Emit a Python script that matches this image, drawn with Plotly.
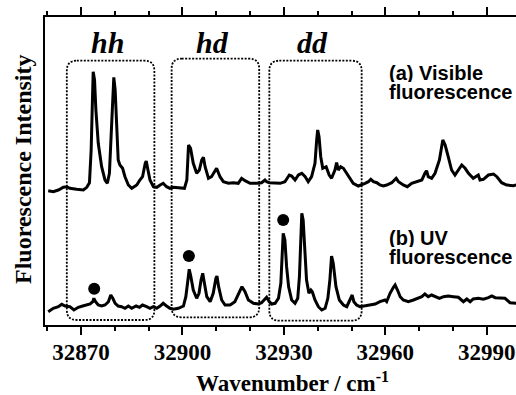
import plotly.graph_objects as go

# ---------------- data ----------------
wn_a = [32860.3, 32861.8, 32863.3, 32864.8, 32865.8, 32866.7, 32868.7, 32870.7, 32871.7, 32872.5,
        32873.0, 32873.4, 32873.6, 32874.0, 32874.4, 32875.1, 32876.1, 32877.1, 32877.8, 32878.4,
        32879.0, 32879.4, 32879.7, 32880.1, 32880.5, 32881.0, 32881.5, 32882.3, 32883.0, 32884.0,
        32885.0, 32886.5, 32887.4, 32888.2, 32889.0, 32889.3, 32889.8, 32890.4, 32891.4, 32892.4,
        32893.4, 32894.3, 32895.3, 32896.3, 32897.3, 32899.3, 32900.6, 32901.3, 32901.8, 32902.4,
        32903.2, 32904.2, 32905.0, 32905.7, 32906.2, 32906.7, 32907.7, 32908.6, 32910.1, 32911.1,
        32912.1, 32913.6, 32915.0, 32916.5, 32917.5, 32918.5, 32920.0, 32922.0, 32923.4, 32924.4,
        32924.9, 32925.7, 32926.9, 32928.9, 32930.3, 32931.1, 32931.6, 32932.3, 32933.3, 32934.3,
        32935.3, 32936.3, 32937.2, 32938.2, 32939.2, 32939.7, 32940.0, 32940.4, 32940.9, 32941.5,
        32942.5, 32943.4, 32944.1, 32945.1, 32945.6, 32946.1, 32946.8, 32947.6, 32948.6, 32949.6,
        32950.5, 32952.0, 32953.0, 32954.0, 32955.0, 32955.7, 32956.5, 32957.5, 32958.4, 32959.4,
        32960.4, 32961.9, 32963.2, 32963.9, 32965.3, 32966.5, 32967.8, 32969.3, 32970.8, 32971.7,
        32972.2, 32972.7, 32973.7, 32974.7, 32976.0, 32977.0, 32977.7, 32978.6, 32979.6, 32980.6,
        32981.6, 32982.6, 32983.6, 32984.6, 32986.0, 32987.5, 32988.0, 32989.0, 32990.5, 32992.0,
        32993.0, 32994.4, 32995.9, 32997.9, 32998.7]
int_a = [134.3, 133.3, 135.0, 137.7, 138.3, 136.7, 135.7, 135.0, 137.7, 142.3,
         175.0, 225.0, 253.3, 245.0, 215.0, 181.7, 158.3, 145.0, 141.7, 151.7,
         191.7, 231.7, 247.7, 235.0, 198.3, 165.0, 160.0, 156.7, 148.3, 140.0,
         136.7, 140.0, 145.0, 148.3, 161.7, 164.0, 155.0, 145.0, 138.3, 137.7,
         140.0, 141.7, 138.3, 136.7, 137.7, 136.7, 136.7, 145.0, 180.0, 176.7,
         161.7, 151.7, 155.0, 165.0, 167.7, 158.3, 146.7, 148.3, 156.7, 148.3,
         143.3, 141.7, 142.3, 141.7, 146.7, 144.3, 141.7, 141.7, 142.3, 145.0,
         143.3, 142.3, 142.3, 141.7, 143.3, 148.3, 150.0, 149.0, 145.0, 150.0,
         151.7, 148.3, 143.3, 148.3, 161.7, 185.0, 195.0, 188.3, 168.3, 156.7,
         158.3, 150.0, 146.7, 155.0, 162.3, 155.0, 158.3, 156.7, 151.7, 146.7,
         141.7, 139.0, 140.0, 141.7, 143.3, 145.7, 143.3, 142.3, 140.0, 139.0,
         140.0, 142.3, 146.7, 143.3, 140.0, 138.3, 141.7, 143.3, 145.0, 151.7,
         154.3, 148.3, 146.7, 151.7, 165.0, 185.0, 180.0, 168.3, 155.0, 150.0,
         155.0, 160.0, 156.7, 151.7, 146.7, 150.0, 145.0, 145.7, 150.0, 151.0,
         148.3, 142.3, 140.0, 139.3, 140.0]

wn_b = [32860.3, 32861.8, 32863.3, 32864.3, 32865.3, 32866.7, 32867.9, 32869.2, 32870.5, 32871.7,
        32872.7, 32873.5, 32873.8, 32874.3, 32875.1, 32876.1, 32877.1, 32878.1, 32878.8, 32879.4,
        32880.1, 32881.0, 32882.0, 32883.0, 32884.0, 32885.0, 32886.3, 32887.3, 32888.2, 32889.4,
        32890.4, 32891.4, 32892.4, 32893.4, 32894.3, 32895.3, 32896.3, 32897.3, 32898.8, 32900.3,
        32901.0, 32901.5, 32902.0, 32902.5, 32903.2, 32904.2, 32904.9, 32905.5, 32906.0, 32906.5,
        32907.2, 32908.2, 32909.1, 32909.9, 32910.2, 32910.7, 32911.6, 32912.6, 32914.1, 32915.5,
        32916.8, 32917.6, 32918.5, 32919.5, 32921.0, 32922.5, 32923.4, 32924.4, 32924.9, 32925.7,
        32926.4, 32927.4, 32928.4, 32929.1, 32929.6, 32929.8, 32930.3, 32930.8, 32931.4, 32932.3,
        32933.3, 32934.1, 32934.6, 32935.0, 32935.3, 32935.7, 32936.3, 32936.7, 32937.4, 32938.0,
        32938.4, 32939.2, 32940.2, 32941.2, 32942.2, 32943.0, 32943.6, 32944.1, 32944.6, 32945.4,
        32946.4, 32947.6, 32948.6, 32949.6, 32950.2, 32950.7, 32951.5, 32952.5, 32954.0, 32955.5,
        32957.0, 32958.4, 32959.9, 32960.4, 32961.4, 32962.4, 32962.9, 32963.6, 32964.4, 32965.3,
        32966.8, 32968.3, 32969.8, 32970.8, 32971.7, 32972.7, 32973.7, 32974.7, 32976.0, 32977.2,
        32978.6, 32980.1, 32981.6, 32983.1, 32984.1, 32985.1, 32986.0, 32987.5, 32989.0, 32990.5,
        32991.5, 32992.5, 32993.9, 32995.4, 32996.9, 32998.7]
int_b = [13.3, 16.7, 18.3, 20.7, 19.0, 18.3, 15.0, 17.7, 19.0, 20.0,
         21.0, 23.3, 26.7, 23.3, 20.0, 19.0, 20.0, 23.3, 30.0, 26.7,
         21.7, 19.0, 18.3, 16.7, 19.0, 16.7, 19.0, 17.7, 20.0, 18.3,
         16.7, 18.3, 16.7, 19.0, 21.7, 19.0, 16.7, 15.7, 16.7, 19.0,
         28.3, 41.7, 55.7, 48.3, 35.0, 26.7, 31.7, 45.0, 51.7, 41.7,
         28.3, 23.3, 31.7, 46.7, 49.0, 38.3, 25.0, 20.0, 20.0, 23.3,
         31.7, 38.3, 33.3, 25.0, 21.7, 21.0, 22.3, 26.7, 27.7, 23.3,
         21.0, 21.7, 26.7, 41.7, 71.7, 91.7, 85.0, 58.3, 38.3, 25.0,
         21.7, 26.7, 48.3, 85.0, 111.7, 105.0, 71.7, 45.0, 31.7, 35.0,
         33.3, 25.0, 18.3, 15.0, 16.7, 26.7, 45.0, 69.0, 61.7, 38.3,
         25.0, 20.0, 18.3, 25.0, 30.0, 23.3, 20.0, 18.3, 19.0, 20.0,
         21.0, 23.3, 25.0, 23.3, 31.7, 37.7, 40.0, 35.0, 28.3, 25.0,
         23.3, 25.0, 26.7, 28.3, 31.0, 28.3, 30.0, 28.3, 26.7, 28.3,
         29.0, 28.3, 27.7, 23.3, 26.0, 23.3, 26.0, 26.7, 25.7, 27.3,
         29.0, 27.3, 27.3, 26.7, 22.3, 21.7]

dot_wn = [32873.9, 32901.9, 32929.8]
dot_int = [36.3, 69.0, 105.0]

region_labels = ["hh", "hd", "dd"]
region_lo = [32865.8, 32896.8, 32925.7]
region_hi = [32891.7, 32922.7, 32953.0]
region_top = [264.3, 266.3, 264.3]
region_bottom = [5.0, 7.7, 4.3]
label_wn = [32877.7, 32909.0, 32938.6]

x_range = [32859.35, 32998.65]
y_range = [0, 308]
tick_vals = [32870, 32900, 32930, 32960, 32990]

# ---------------- figure ----------------
W, H = 516, 395
ml, mr, mt, mb = 45, 0, 17, 70
pw, ph = W - ml - mr, H - mt - mb

fig = go.Figure()
fig.add_trace(go.Scatter(x=wn_a, y=int_a, mode="lines",
                         line=dict(color="black", width=3), hoverinfo="skip"))
fig.add_trace(go.Scatter(x=wn_b, y=int_b, mode="lines",
                         line=dict(color="black", width=3), hoverinfo="skip"))
fig.add_trace(go.Scatter(x=dot_wn, y=dot_int, mode="markers",
                         marker=dict(color="black", size=12), hoverinfo="skip"))

# rounded dotted boxes
xpu = pw / (x_range[1] - x_range[0])   # px per wavenumber
ypu = ph / (y_range[1] - y_range[0])   # px per intensity unit
r_px = 10
rx, ry = r_px / xpu, r_px / ypu
for lo, hi, top, bot in zip(region_lo, region_hi, region_top, region_bottom):
    path = (f"M {lo+rx},{top} L {hi-rx},{top} Q {hi},{top} {hi},{top-ry} "
            f"L {hi},{bot+ry} Q {hi},{bot} {hi-rx},{bot} "
            f"L {lo+rx},{bot} Q {lo},{bot} {lo},{bot+ry} "
            f"L {lo},{top-ry} Q {lo},{top} {lo+rx},{top} Z")
    fig.add_shape(type="path", path=path, xref="x", yref="y",
                  line=dict(color="black", width=1.8, dash="2px,1.5px"))

serif = "Liberation Serif, Times New Roman, serif"
sans = "Liberation Sans, Arial, sans-serif"

for lab, xw in zip(region_labels, label_wn):
    fig.add_annotation(x=xw, y=283, xref="x", yref="y", text=f"<b><i>{lab}</i></b>",
                       showarrow=False, font=dict(family=serif, size=30, color="black"),
                       xanchor="center", yanchor="middle")

side_labels = [("(a) Visible", 252.5), ("fluorescence", 233.5),
               ("(b) UV", 87.0), ("fluorescence", 68.5)]
for txt, yv in side_labels:
    fig.add_annotation(x=32960.5, y=yv, xref="x", yref="y", text=f"<b>{txt}</b>",
                       showarrow=False, font=dict(family=sans, size=20, color="black"),
                       xanchor="left", yanchor="middle", height=18)

# axis titles
fig.add_annotation(x=(292 - ml) / pw, y=-(382 - (H - mb)) / ph, xref="paper", yref="paper",
                   text="<b>Wavenumber / cm<sup>-1</sup></b>", showarrow=False,
                   font=dict(family=serif, size=23, color="black"),
                   xanchor="center", yanchor="middle", height=24)
fig.add_annotation(x=(23 - ml) / pw, y=((H - mb) - 169) / ph, xref="paper", yref="paper",
                   text="<b>Fluorescence Intensity</b>", showarrow=False, textangle=-90,
                   font=dict(family=serif, size=24, color="black"),
                   xanchor="center", yanchor="middle")

fig.update_layout(
    width=W, height=H,
    margin=dict(l=ml, r=mr, t=mt, b=mb),
    paper_bgcolor="white", plot_bgcolor="white",
    showlegend=False,
    xaxis=dict(range=x_range, showgrid=False, zeroline=False,
               showline=True, linecolor="black", linewidth=2, mirror="ticks",
               ticks="outside", ticklen=8, tickwidth=1.5, tickcolor="black",
               tickvals=tick_vals, ticktext=[str(v) for v in tick_vals],
               ticklabelstandoff=-3,
               tickfont=dict(family=serif, size=23, color="black", weight="bold"),
               minor=dict(dtick=10, tick0=32860, ticks="outside", ticklen=4,
                          tickwidth=1.5, tickcolor="black", showgrid=False)),
    yaxis=dict(range=y_range, showgrid=False, zeroline=False,
               showline=True, linecolor="black", linewidth=2, mirror=False,
               ticks="", showticklabels=False),
)

fig.write_html("out.html")
